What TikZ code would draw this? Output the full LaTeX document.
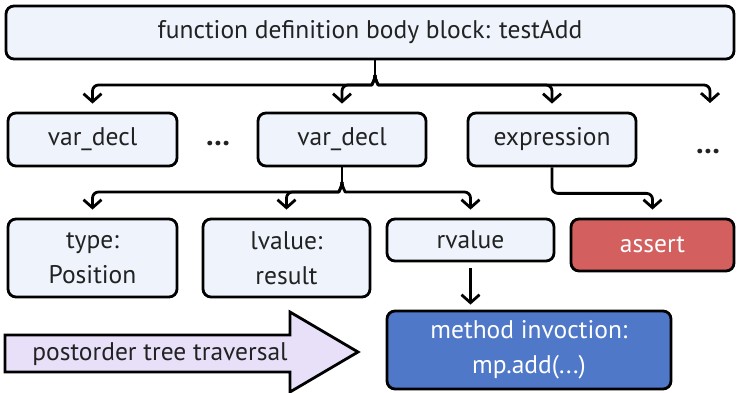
\documentclass[tikz,border=0pt]{standalone}
\usepackage{fontspec}
\setmainfont{PT Sans}
\usetikzlibrary{arrows.meta}
\definecolor{boxfill}{HTML}{EEF3FC}
\definecolor{assertred}{HTML}{D35F5F}
\definecolor{callblue}{HTML}{5078C8}
\definecolor{travfill}{HTML}{E8E0F8}
\definecolor{ink}{HTML}{222222}

\begin{document}
\begin{tikzpicture}[x=1pt,y=1pt,
  blk/.style={draw, line width=2.8pt, rounded corners=8pt, fill=boxfill, align=center,
    text=ink, font=\fontsize{25.5}{35}\selectfont},
  conn/.style={line width=2.8pt, rounded corners=6pt, line join=round, -{Straight Barb[length=8pt,width=18pt]}},
  dots/.style={text=ink, font=\fontsize{30}{30}\selectfont\bfseries}]
\useasboundingbox (0,0) rectangle (738,393);
% top level block
\node[blk, minimum width=728, minimum height=53] (body) at (370,360.5) {function definition body block: testAdd};
% statements
\node[blk, minimum width=169, minimum height=53] (decl1) at (92.5,253.5) {var\_decl};
\node[dots] (dotsL) at (218,249) {…};
\node[blk, minimum width=168, minimum height=53] (decl2) at (342,253.5) {var\_decl};
\node[blk, minimum width=168, minimum height=53] (expr) at (552,253.5) {expression};
\node[dots] (dotsR) at (708,241) {…};
\coordinate (endR) at (710,290);
% children
\node[blk, minimum width=169, minimum height=78] (type) at (92.5,135) {type:\\Position};
\node[blk, minimum width=167, minimum height=78] (lval) at (286.5,135) {lvalue:\\result};
\node[blk, minimum width=167, minimum height=42] (rval) at (470.5,153) {rvalue};
\node[blk, minimum width=163, minimum height=52, fill=assertred, text=white] (assert) at (652.5,148) {assert};
\node[blk, minimum width=284, minimum height=78, fill=callblue, text=white] (method) at (529,43) {method invoction:\\mp.add(...)};
% traversal arrow
\draw[line width=2.8pt, fill=travfill, line join=miter] (5,58) -- (290,58) -- (290,81) -- (358,41) -- (290,1) -- (290,21) -- (5,21) -- cycle;
\node[text=ink, font=\fontsize{25.5}{30}\selectfont] (trav) at (160,39) {postorder tree traversal};
% block -> statements
\coordinate (hub1) at (375,318);
\draw[line width=2.8pt] (body.south -| hub1) -- (hub1);
\draw[conn, shorten >=8pt] (hub1) to[out=-90,in=0] (366,308) -| (decl1.north);
\draw[conn, shorten >=8pt] (hub1) to[out=-90,in=0] (366,308) -| (decl2.north);
\draw[conn, shorten >=8pt] (hub1) to[out=-90,in=180] (384,308) -| (expr.north);
\draw[conn] (hub1) to[out=-90,in=180] (384,308) -| (endR);
% var_decl -> children
\coordinate (hub2) at (342,211);
\draw[line width=2.8pt] (decl2.south) -- (hub2);
\draw[conn, shorten >=8pt] (hub2) to[out=-90,in=0] (333,201) -| (type.north);
\draw[conn, shorten >=8pt] (hub2) to[out=-90,in=0] (333,201) -| (lval.north);
\draw[conn, shorten >=8pt] (hub2) to[out=-90,in=180] (351,201) -| (rval.north);
% expression -> assert
\draw[conn, shorten >=8pt] (expr.south) -- ++(0,-26) -| (assert.north);
% rvalue -> method invocation
\draw[conn, shorten <=6pt, shorten >=5pt] (rval.south) -- (rval.south |- method.north);
\end{tikzpicture}
\end{document}
